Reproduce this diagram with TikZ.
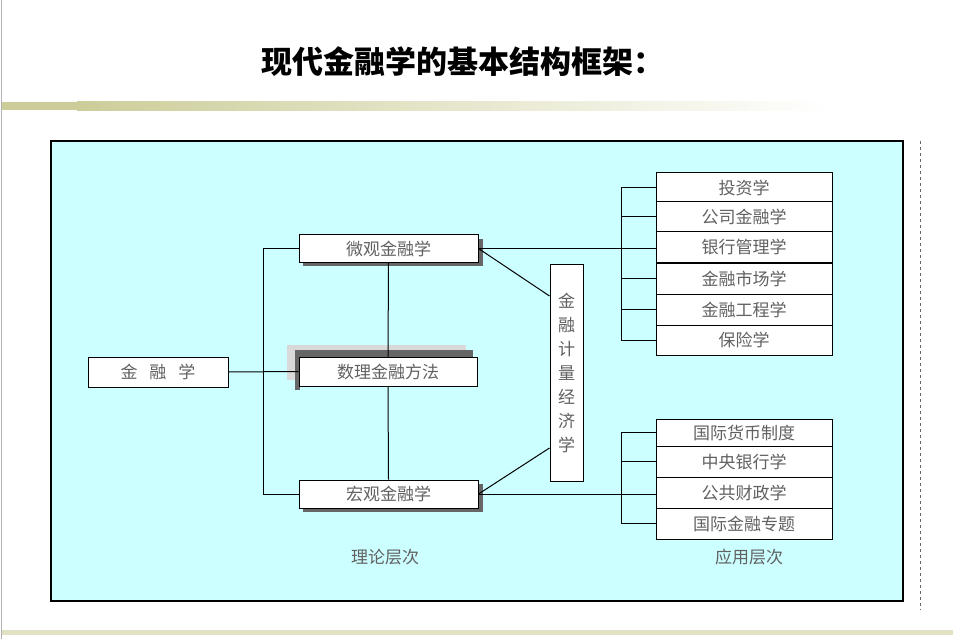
\documentclass[tikz,border=0pt]{standalone}
\usepackage{fontspec}
\setmainfont{Noto Sans CJK SC}
\newfontfamily\cjk{Noto Sans CJK SC}
\definecolor{olv}{RGB}{205,205,154}
\definecolor{olvl}{RGB}{225,225,195}
\definecolor{cyn}{RGB}{204,255,255}
\begin{document}
\begin{tikzpicture}[x=1pt,y=-1pt,
  bx/.style={draw=black,fill=white,line width=1pt,inner sep=0pt,text=black!62,font=\cjk\fontsize{17}{17}\selectfont},
  ln/.style={line width=1pt,black}]
\useasboundingbox (0,0) rectangle (953,639);
\fill[white] (0,0) rectangle (953,639);
\draw[black!30] (1.5,0) -- (1.5,639);
\node[font=\cjk\bfseries\fontsize{31}{31}\selectfont] (title) at (463,62) {现代金融学的基本结构框架：};
\shade[left color=olv, right color=white] (77,102) rectangle (830,111);
\fill[olv] (2,102) rectangle (77,110);
\fill[olvl] (2,630) rectangle (953,635);
\draw[fill=cyn,line width=1.2pt] (51,141) rectangle (903,601);
\draw[black!60,dashed] (920,141) -- (920,610);
% shadows
\fill[black!60] (303,239) rectangle (483,266);
\fill[black!60] (303,484) rectangle (483,512);
\fill[black!15] (287,345) rectangle (466,380);
\fill[black!60] (295,350) rectangle (473,362);
\fill[black!60] (295,350) rectangle (300,390);
% nodes
\node[bx,minimum width=140pt,minimum height=30pt] (jr) at (158,372) {金\hspace{0.7em}融\hspace{0.7em}学};
\node[bx,minimum width=179pt,minimum height=27pt] (wg) at (388.5,248.5) {微观金融学};
\node[bx,minimum width=178pt,minimum height=29pt] (sl) at (388,371.5) {数理金融方法};
\node[bx,minimum width=179pt,minimum height=28pt] (hg) at (388.5,494) {宏观金融学};
\node[bx,minimum width=33pt,minimum height=217pt,align=center,font=\cjk\fontsize{17}{24}\selectfont] (jl) at (566.5,372.5) {金\\融\\计\\量\\经\\济\\学};
\foreach \n/\y/\h/\t in {a1/187.5/29/投资学,a2/217/30/公司金融学,a3/247/30/银行管理学,a4/278.5/31/金融市场学,a5/309.5/31/金融工程学,a6/340/30/保险学,b1/432.5/27/国际货币制度,b2/461.5/31/中央银行学,b3/492.5/31/公共财政学,b4/523.5/31/国际金融专题}
  \node[bx,minimum width=176pt,minimum height=\h pt] (\n) at (744,\y) {\t};
% connectors
\coordinate (lt) at (263,248.5); \coordinate (lb) at (263,494);
\draw[ln] (wg.west) -- (lt) -- (lb) -- (hg.west);
\draw[ln] (jr.east) -- (sl.west);
\draw[ln] (wg.south) -- (sl.north);
\draw[ln] (sl.south) -- (hg.north);
\draw[ln] (wg.east) -- (jl.west |- 0,296);
\draw[ln] (hg.east) -- (jl.west |- 0,448);
\draw[ln] (wg.east) -- (a3.west |- wg.east);
\draw[ln] (hg.east) -- (b3.west |- hg.east);
\draw[ln] (621,187.5) -- (621,340);
\draw[ln] (621,432.5) -- (621,523.5);
\foreach \n in {a1,a2,a4,a5,a6,b1,b2,b4}
  \draw[ln] (\n.west) -- (621,0 |- \n.west);
\node[text=black!62,font=\cjk\fontsize{17}{17}\selectfont] (t1) at (385,557) {理论层次};
\node[text=black!62,font=\cjk\fontsize{17}{17}\selectfont] (t2) at (749,557) {应用层次};
\end{tikzpicture}
\end{document}
